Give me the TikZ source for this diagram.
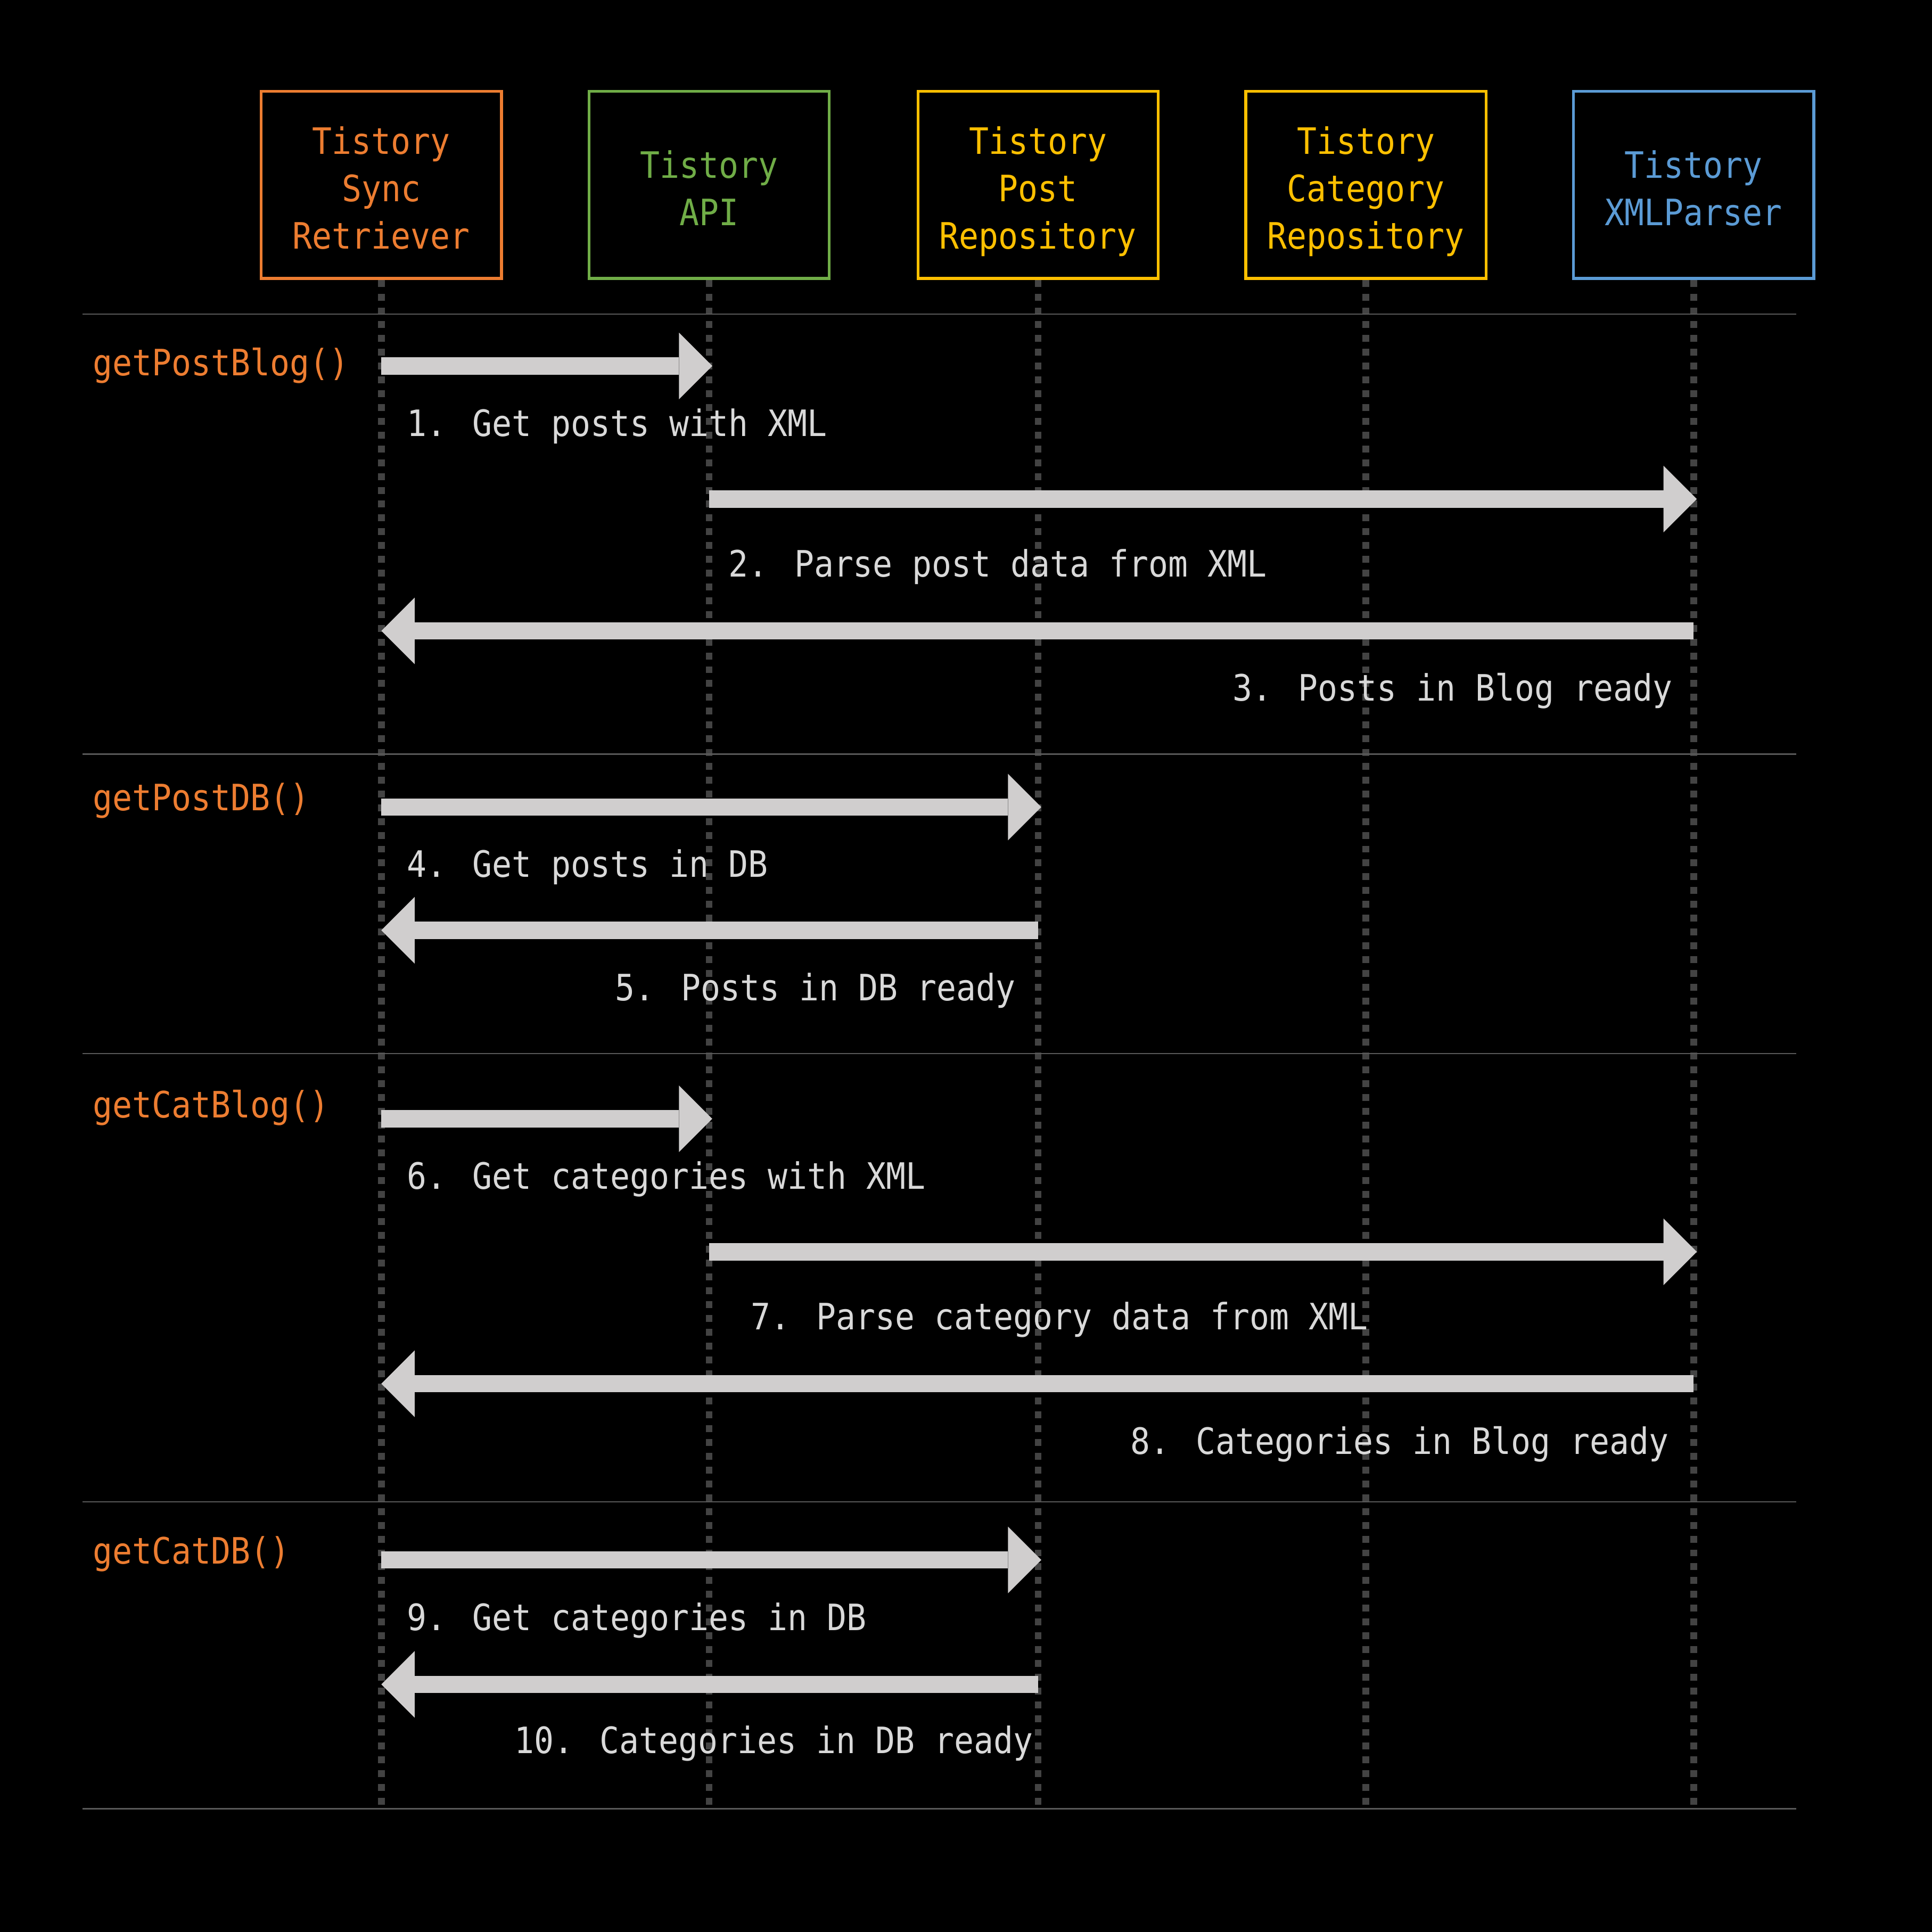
\documentclass[tikz,border=0pt]{standalone}
\usepackage{fontspec}
\usetikzlibrary{arrows.meta}
\newfontfamily\monofont{DejaVu Sans Mono}[FakeStretch=0.9]
\definecolor{cOrange}{HTML}{ED7D31}
\definecolor{cGreen}{HTML}{70AD47}
\definecolor{cGold}{HTML}{FFC000}
\definecolor{cBlue}{HTML}{5B9BD5}
\definecolor{cArrow}{HTML}{D0CECE}
\definecolor{cText}{HTML}{D9D9D9}
\definecolor{cLife}{HTML}{434343}
\definecolor{cSep}{HTML}{595959}
\begin{document}
\begin{tikzpicture}[x=0.5pt,y=-0.5pt,
  every node/.style={font=\monofont\fontsize{14.75}{19.25}\selectfont},
  actor/.style={draw=#1, line width=1.15pt, minimum width=97.5pt, minimum height=76pt, inner sep=0pt},
  actortext/.style={text=#1, align=center, inner sep=0pt},
  life/.style={cLife, line width=2.75pt, dash pattern=on 2.8pt off 2.8pt},
  sep/.style={cSep, line width=0.5pt},
  msg/.style={cArrow, line width=7pt, -{Triangle[length=13.5pt,width=27pt,line width=0pt]}},
  msgR/.style={msg, shorten >=-1.3pt},
  msglabel/.style={text=cText, anchor=base west, inner sep=0pt},
  call/.style={text=cOrange, anchor=base west, inner sep=0pt},
]
\fill[black] (0,0) rectangle (1568,1568);
\useasboundingbox (0,0) rectangle (1568,1568);

% actors
\node[actor=cOrange] (A) at (309.5,150) {};
\node[actor=cGreen]  (B) at (575.5,150) {};
\node[actor=cGold]   (C) at (842.5,150) {};
\node[actor=cGold]   (D) at (1108.5,150) {};
\node[actor=cBlue]   (E) at (1374.5,150) {};
\node[actortext=cOrange] (tA) at ([yshift=-3pt]A.center) {\strut Tistory\\\strut Sync\\\strut Retriever};
\node[actortext=cGreen]  (tB) at ([yshift=-3pt]B.center) {\strut Tistory\\\strut API};
\node[actortext=cGold]   (tC) at ([yshift=-3pt]C.center) {\strut Tistory\\\strut Post\\\strut Repository};
\node[actortext=cGold]   (tD) at ([yshift=-3pt]D.center) {\strut Tistory\\\strut Category\\\strut Repository};
\node[actortext=cBlue]   (tE) at ([yshift=-3pt]E.center) {\strut Tistory\\\strut XMLParser};

% lifelines
\coordinate (bottom) at (0,1468);
\foreach \n in {A,B,C,D,E} {
  \draw[life] (\n.south) -- (\n |- bottom);
}

% separators
\foreach \yy in {255,612,855,1219,1468} {
  \draw[sep] (67,\yy) -- (1458,\yy);
}

% message rows
\coordinate (y1) at (0,297);
\coordinate (y2) at (0,405);
\coordinate (y3) at (0,512);
\coordinate (y4) at (0,655);
\coordinate (y5) at (0,755);
\coordinate (y6) at (0,908);
\coordinate (y7) at (0,1016);
\coordinate (y8) at (0,1123);
\coordinate (y9) at (0,1266);
\coordinate (y10) at (0,1367);

\draw[msgR] (A |- y1) -- (B |- y1);
\draw[msgR] (B |- y2) -- (E |- y2);
\draw[msg] (E |- y3) -- (A |- y3);
\draw[msgR] (A |- y4) -- (C |- y4);
\draw[msg] (C |- y5) -- (A |- y5);
\draw[msgR] (A |- y6) -- (B |- y6);
\draw[msgR] (B |- y7) -- (E |- y7);
\draw[msg] (E |- y8) -- (A |- y8);
\draw[msgR] (A |- y9) -- (C |- y9);
\draw[msg] (C |- y10) -- (A |- y10);

% call labels
\node[call] (c1) at (75,305) {getPostBlog()};
\node[call] (c2) at (75,658) {getPostDB()};
\node[call] (c3) at (75,907) {getCatBlog()};
\node[call] (c4) at (75,1269) {getCatDB()};

% message labels
\node[msglabel] (l1) at (330,354) {1. Get posts with XML};
\node[msglabel] (l2) at (591,468) {2. Parse post data from XML};
\node[msglabel] (l3) at (1000,569) {3. Posts in Blog ready};
\node[msglabel] (l4) at (330,712) {4. Get posts in DB};
\node[msglabel] (l5) at (499,812) {5. Posts in DB ready};
\node[msglabel] (l6) at (330,965) {6. Get categories with XML};
\node[msglabel] (l7) at (609,1079) {7. Parse category data from XML};
\node[msglabel] (l8) at (917,1180) {8. Categories in Blog ready};
\node[msglabel] (l9) at (330,1323) {9. Get categories in DB};
\node[msglabel] (l10) at (417,1423) {10. Categories in DB ready};
\end{tikzpicture}
\end{document}
